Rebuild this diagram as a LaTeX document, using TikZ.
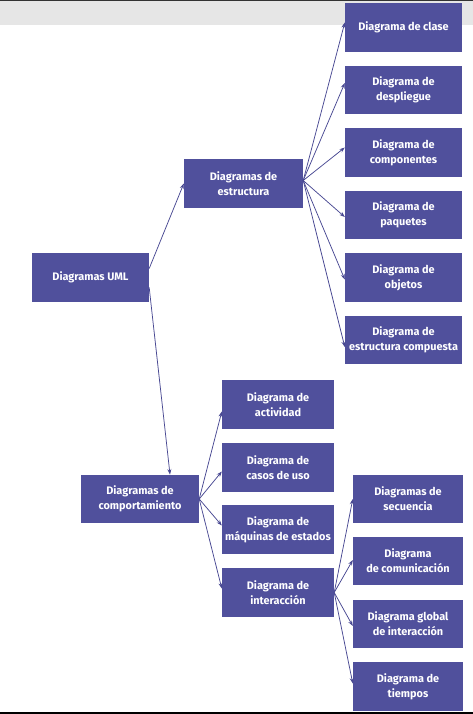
\documentclass[tikz,border=0pt]{standalone}
\usepackage{fontspec}
\setmainfont{Fira Sans}
\usetikzlibrary{arrows.meta}
\definecolor{boxc}{RGB}{80,80,156}
\definecolor{linec}{RGB}{72,72,146}
\definecolor{bandc}{RGB}{230,230,230}
\tikzset{
  box/.style={draw=none, fill=boxc, text=white, font=\bfseries\fontsize{10.9}{15}\selectfont,
    align=center, inner sep=0pt, minimum height=48.5pt},
  conn/.style={draw=linec, line width=0.75pt, -{Stealth[length=5.5pt,width=4pt]}}
}
\begin{document}
\begin{tikzpicture}[x=1pt,y=-1pt]
\useasboundingbox (0,0) rectangle (473,714);
\fill[bandc] (0,1.5) rectangle (473,25);
\fill[black!80] (0,0) rectangle (473,1.5);
\fill[black] (0,711.5) rectangle (473,714);
% structure column
\node[box, minimum width=117pt] (clase) at (403.5,27.5) {Diagrama de clase};
\node[box, minimum width=117pt] (despl) at (403.5,90) {Diagrama de\\despliegue};
\node[box, minimum width=117pt] (compo) at (403.5,152.5) {Diagrama de\\componentes};
\node[box, minimum width=117pt] (paq) at (403.5,215) {Diagrama de\\paquetes};
\node[box, minimum width=117pt] (obj) at (403.5,277.5) {Diagrama de\\objetos};
\node[box, minimum width=117pt] (ecomp) at (403.5,340) {Diagrama de\\estructura compuesta};
\node[box, minimum width=119pt] (est) at (243.5,183.5) {Diagramas de\\estructura};
\node[box, minimum width=117pt] (uml) at (90.5,277.5) {Diagramas UML};
\node[box, minimum width=118pt] (comp) at (140,499) {Diagramas de\\comportamiento};
\node[box, minimum width=112pt] (act) at (278,404.5) {Diagrama de\\actividad};
\node[box, minimum width=112pt] (casos) at (278,467.5) {Diagrama de\\casos de uso};
\node[box, minimum width=112pt] (maq) at (278,529.5) {Diagrama de\\máquinas de estados};
\node[box, minimum width=112pt] (inter) at (278,592.5) {Diagrama de\\interacción};
\node[box, minimum width=110pt] (sec) at (408,499) {Diagramas de\\secuencia};
\node[box, minimum width=110pt] (comu) at (408,561) {Diagrama\\de comunicación};
\node[box, minimum width=110pt] (glob) at (408,624) {Diagrama global\\de interacción};
\node[box, minimum width=110pt] (tiem) at (408,686.5) {Diagrama de\\tiempos};
% connectors
\draw[conn] ([yshift=9pt]uml.east) -- (est.west);
\draw[conn] ([yshift=-10pt]uml.east) -- ([xshift=30pt]comp.north);
\foreach \t/\o in {clase/5, despl/7, compo/5, paq/-2, obj/-2, ecomp/-7}
  \draw[conn] ([yshift=3pt]est.east) -- ([yshift=\o pt]\t.west);
\foreach \t/\o in {act/-7, casos/-4, maq/4, inter/4}
  \draw[conn] (comp.east) -- ([yshift=\o pt]\t.west);
\foreach \t/\o in {sec/0, comu/1, glob/-2, tiem/3}
  \draw[conn] (inter.east) -- ([yshift=\o pt]\t.west);
\end{tikzpicture}
\end{document}
